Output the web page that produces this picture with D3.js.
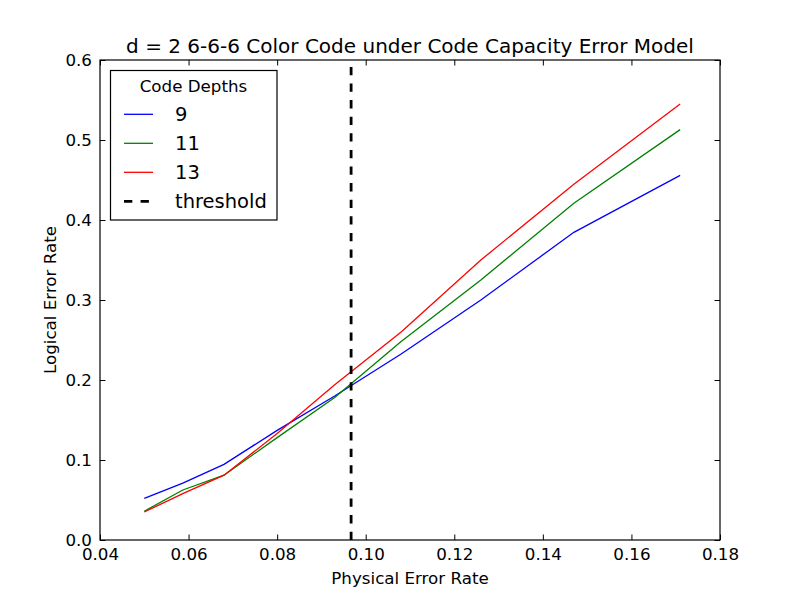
<!DOCTYPE html>
<html>
<head>
<meta charset="utf-8">
<script src="https://cdn.jsdelivr.net/npm/d3@7"></script>
<style>
  body { margin: 0; background: #fff; }
  svg { display: block; font-family: "DejaVu Sans", sans-serif; }
</style>
</head>
<body>
<svg id="chart" width="800" height="600"></svg>
<script>
const physicalErrorRates = [0.05, 0.0587, 0.068, 0.080, 0.093, 0.108, 0.126, 0.147, 0.171];
const depth9 = [0.052, 0.071, 0.0946, 0.137, 0.180, 0.2325, 0.300, 0.3846, 0.4558];
const depth11 = [0.036, 0.0625, 0.081, 0.128, 0.178, 0.248, 0.325, 0.421, 0.513];
const depth13 = [0.035, 0.058, 0.081, 0.133, 0.194, 0.260, 0.350, 0.4446, 0.545];
const seriesNames = ["9", "11", "13"];
const seriesColors = ["#0000ff", "#008000", "#ff0000"];
const thresholdValue = 0.0967;
const xTicks = [0.04, 0.06, 0.08, 0.10, 0.12, 0.14, 0.16, 0.18];
const yTicks = [0.0, 0.1, 0.2, 0.3, 0.4, 0.5, 0.6];

const svg = d3.select("#chart");
const margin = {left: 100, right: 80, top: 60, bottom: 60};
const W = 800, H = 600;
const x = d3.scaleLinear().domain([0.04, 0.18]).range([margin.left, W - margin.right]);
const y = d3.scaleLinear().domain([0, 0.6]).range([H - margin.bottom, margin.top]);

const series = [depth9, depth11, depth13];

const line = d3.line().x(d => x(d[0])).y(d => y(d[1]));
const g = svg.append("g");

series.forEach((vals, i) => {
  g.append("path")
    .datum(physicalErrorRates.map((p, j) => [p, vals[j]]))
    .attr("fill", "none")
    .attr("stroke", seriesColors[i])
    .attr("stroke-width", 1.3)
    .attr("d", line);
});

// threshold
g.append("line")
  .attr("x1", x(thresholdValue)).attr("x2", x(thresholdValue))
  .attr("y1", y(0)).attr("y2", y(0.6))
  .attr("stroke", "#000").attr("stroke-width", 2.8)
  .attr("stroke-dasharray", "8.3,8.3");

// axes (inward ticks on all sides)
const fmtX = d3.format(".2f");
const fmtY = d3.format(".1f");
const tickLen = 5.5;
const fs = 16.7;

const axB = d3.axisBottom(x).tickValues(xTicks).tickSize(-tickLen).tickPadding(8).tickFormat(fmtX);
const axT = d3.axisTop(x).tickValues(xTicks).tickSize(-tickLen).tickFormat("");
const axL = d3.axisLeft(y).tickValues(yTicks).tickSize(-tickLen).tickPadding(8).tickFormat(fmtY);
const axR = d3.axisRight(y).tickValues(yTicks).tickSize(-tickLen).tickFormat("");

function style(sel) {
  sel.select(".domain").remove();
  sel.selectAll("line").attr("stroke", "#000").attr("stroke-width", 1);
  sel.selectAll("text").attr("font-size", fs).attr("fill", "#000").attr("font-family", "DejaVu Sans");
}
svg.append("g").attr("transform", `translate(0,${y(0)})`).call(axB).call(style);
svg.append("g").attr("transform", `translate(0,${y(0.6)})`).call(axT).call(style);
svg.append("g").attr("transform", `translate(${x(0.04)},0)`).call(axL).call(style);
svg.append("g").attr("transform", `translate(${x(0.18)},0)`).call(axR).call(style);

// frame
svg.append("rect")
  .attr("x", x(0.04)).attr("y", y(0.6))
  .attr("width", x(0.18) - x(0.04)).attr("height", y(0) - y(0.6))
  .attr("fill", "none").attr("stroke", "#000").attr("stroke-width", 1.2);

// title & labels
svg.append("text").attr("x", (x(0.04) + x(0.18)) / 2).attr("y", 53)
  .attr("text-anchor", "middle").attr("font-size", 20)
  .text("d = 2 6-6-6 Color Code under Code Capacity Error Model");
svg.append("text").attr("x", (x(0.04) + x(0.18)) / 2).attr("y", 584)
  .attr("text-anchor", "middle").attr("font-size", fs)
  .text("Physical Error Rate");
svg.append("text")
  .attr("transform", `translate(56,${(y(0) + y(0.6)) / 2}) rotate(-90)`)
  .attr("text-anchor", "middle").attr("font-size", fs)
  .text("Logical Error Rate");

// legend
const leg = svg.append("g");
leg.append("rect").attr("x", 110.5).attr("y", 70.5).attr("width", 166.5).attr("height", 149.5)
  .attr("fill", "#fff").attr("stroke", "#000").attr("stroke-width", 1.2);
leg.append("text").attr("x", 193.5).attr("y", 92).attr("text-anchor", "middle")
  .attr("font-size", fs).text("Code Depths");
const legItems = seriesNames.map((n, i) => ({label: n, color: seriesColors[i], dash: null}))
  .concat([{label: "threshold", color: "#000", dash: "8.3,8.3"}]);
legItems.forEach((it, i) => {
  const yy = 114.3 + i * 29;
  leg.append("line").attr("x1", 124).attr("x2", 153).attr("y1", yy).attr("y2", yy)
    .attr("stroke", it.color).attr("stroke-width", it.dash ? 2.8 : 1.3)
    .attr("stroke-dasharray", it.dash);
  leg.append("text").attr("x", 175).attr("y", yy + 7).attr("font-size", 19.5).text(it.label);
});
</script>
</body>
</html>
